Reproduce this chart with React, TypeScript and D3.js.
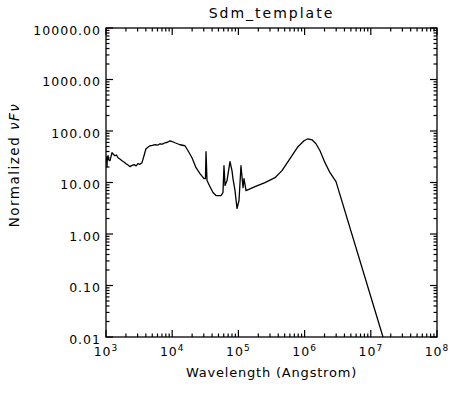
import React, { useEffect, useRef } from "react";
import * as d3 from "d3";

// SED template (wavelength in Angstrom, normalized nuFnu)
const wavelength = [
  1000, 1020, 1035, 1050, 1072, 1100, 1149, 1232, 1300, 1368, 1440, 1518, 1620,
  1745, 1870, 2005, 2150, 2306, 2480, 2650, 2850, 3041, 3260, 3497, 3750, 4018,
  4300, 4621, 5000, 5500, 6000, 6546, 7100, 7787, 8500, 9266, 10000, 11020,
  13120, 15600, 17330, 19910, 22890, 26300, 30220, 31800, 32430, 33570, 37250,
  41320, 45890, 54570, 58480, 60560, 62780, 67300, 74650, 80000, 82800, 88900,
  95300, 102100, 109400, 117400, 121600, 130300, 178200, 252300, 357300,
  455900, 601500, 794300, 979000, 1125000, 1293000, 1486000, 1708000, 2032000,
  2419000, 2981000, 15280000,
];
const nuFnu = [
  29.0, 31.5, 20.3, 30.0, 33.1, 27.5, 26.5, 37.9, 35.0, 33.1, 34.2, 30.3, 28.6,
  26.5, 25.0, 23.2, 21.8, 20.3, 21.5, 22.2, 21.0, 23.2, 22.6, 24.3, 33.1, 45.3,
  48.5, 51.7, 52.5, 54.1, 53.0, 56.5, 55.5, 59.1, 60.5, 64.6, 62.5, 59.1, 54.1,
  51.7, 41.4, 30.3, 19.4, 14.9, 11.9, 11.9, 39.6, 10.9, 8.3, 6.38, 5.58, 5.58,
  6.38, 21.2, 8.71, 10.9, 25.4, 17.0, 11.9, 6.97, 3.13, 4.47, 21.2, 7.96, 11.9,
  6.97, 8.3, 9.96, 12.4, 17.0, 29.0, 49.5, 64.6, 70.6, 67.6, 56.5, 41.4, 24.3,
  15.5, 10.4, 0.01,
];

const xDecades = [3, 4, 5, 6, 7, 8];
const yTickValues = [0.01, 0.1, 1, 10, 100, 1000, 10000];
const yTickLabels = ["0.01", "0.10", "1.00", "10.00", "100.00", "1000.00", "10000.00"];

const W = 472;
const H = 394;
const margin = { top: 28, right: 35, bottom: 57, left: 106 };
const font = "DejaVu Sans, sans-serif";

export default function App() {
  const ref = useRef<SVGSVGElement>(null);

  useEffect(() => {
    const svg = d3.select(ref.current);
    svg.selectAll("*").remove();

    const x0 = margin.left, x1 = W - margin.right;
    const y0 = H - margin.bottom, y1 = margin.top;

    const xScale = d3.scaleLog().domain([1e3, 1e8]).range([x0, x1]);
    const yScale = d3.scaleLog().domain([0.01, 10000]).range([y0, y1]);

    const majorLen = 7, minorLen = 3.5;
    const g = svg.append("g").attr("stroke", "#000").attr("stroke-width", 1.2);

    // ticks on all four sides, pointing inward
    for (let e = 3; e <= 8; e++) {
      const base = Math.pow(10, e);
      const xm = xScale(base);
      g.append("line").attr("x1", xm).attr("x2", xm).attr("y1", y0).attr("y2", y0 - majorLen);
      g.append("line").attr("x1", xm).attr("x2", xm).attr("y1", y1).attr("y2", y1 + majorLen);
      if (e < 8) {
        for (let k = 2; k <= 9; k++) {
          const xv = xScale(base * k);
          g.append("line").attr("x1", xv).attr("x2", xv).attr("y1", y0).attr("y2", y0 - minorLen);
          g.append("line").attr("x1", xv).attr("x2", xv).attr("y1", y1).attr("y2", y1 + minorLen);
        }
      }
    }
    yTickValues.forEach((v, i) => {
      const ym = yScale(v);
      g.append("line").attr("x1", x0).attr("x2", x0 + majorLen).attr("y1", ym).attr("y2", ym);
      g.append("line").attr("x1", x1).attr("x2", x1 - majorLen).attr("y1", ym).attr("y2", ym);
      if (i < yTickValues.length - 1) {
        for (let k = 2; k <= 9; k++) {
          const yv = yScale(v * k);
          g.append("line").attr("x1", x0).attr("x2", x0 + minorLen).attr("y1", yv).attr("y2", yv);
          g.append("line").attr("x1", x1).attr("x2", x1 - minorLen).attr("y1", yv).attr("y2", yv);
        }
      }
    });

    // the curve
    const line = d3
      .line<number>()
      .x((d, i) => xScale(wavelength[i]))
      .y((d) => yScale(d));
    svg.append("defs").append("clipPath").attr("id", "plotclip")
      .append("rect").attr("x", x0).attr("y", y1).attr("width", x1 - x0).attr("height", y0 - y1);
    svg.append("path")
      .datum(nuFnu)
      .attr("d", line)
      .attr("clip-path", "url(#plotclip)")
      .attr("fill", "none")
      .attr("stroke", "#000")
      .attr("stroke-width", 1.3)
      .attr("stroke-linejoin", "round");

    // frame
    svg.append("rect")
      .attr("x", x0).attr("y", y1)
      .attr("width", x1 - x0).attr("height", y0 - y1)
      .attr("fill", "none").attr("stroke", "#000").attr("stroke-width", 1.3);

    // y tick labels
    yTickValues.forEach((v, i) => {
      svg.append("text")
        .attr("x", x0 - 5)
        .attr("y", yScale(v) + 2)
        .attr("text-anchor", "end")
        .attr("dominant-baseline", "central")
        .attr("font-family", font)
        .attr("font-size", 12.5)
        .attr("letter-spacing", 1)
        .text(yTickLabels[i]);
    });

    // x tick labels 10^n
    xDecades.forEach((e) => {
      const t = svg.append("text")
        .attr("x", xScale(Math.pow(10, e)))
        .attr("y", 356)
        .attr("text-anchor", "middle")
        .attr("font-family", font)
        .attr("font-size", 12.5)
        .attr("letter-spacing", 1);
      t.append("tspan").text("10");
      t.append("tspan").attr("dy", -5).attr("font-size", 9).text(String(e));
    });

    // x title
    svg.append("text")
      .attr("x", (x0 + x1) / 2)
      .attr("y", 377)
      .attr("text-anchor", "middle")
      .attr("font-family", font)
      .attr("font-size", 13)
      .attr("letter-spacing", 0.8)
      .text("Wavelength (Angstrom)");

    // y title
    const yt = svg.append("text")
      .attr("transform", "translate(19," + 165 + ") rotate(-90)")
      .attr("text-anchor", "middle")
      .attr("font-family", font)
      .attr("font-size", 13.5)
      .attr("letter-spacing", 1.5);
    yt.append("tspan").text("Normalized ");
    yt.append("tspan").attr("font-style", "italic").text("νFν");

    // plot title
    svg.append("text")
      .attr("x", (x0 + x1) / 2)
      .attr("y", 18)
      .attr("text-anchor", "middle")
      .attr("font-family", font)
      .attr("font-size", 14)
      .attr("letter-spacing", 2)
      .text("Sdm_template");
  }, []);

  return (
    <svg
      ref={ref}
      width={W}
      height={H}
      style={{ position: "absolute", left: 0, top: 0, background: "#fff" }}
    />
  );
}
